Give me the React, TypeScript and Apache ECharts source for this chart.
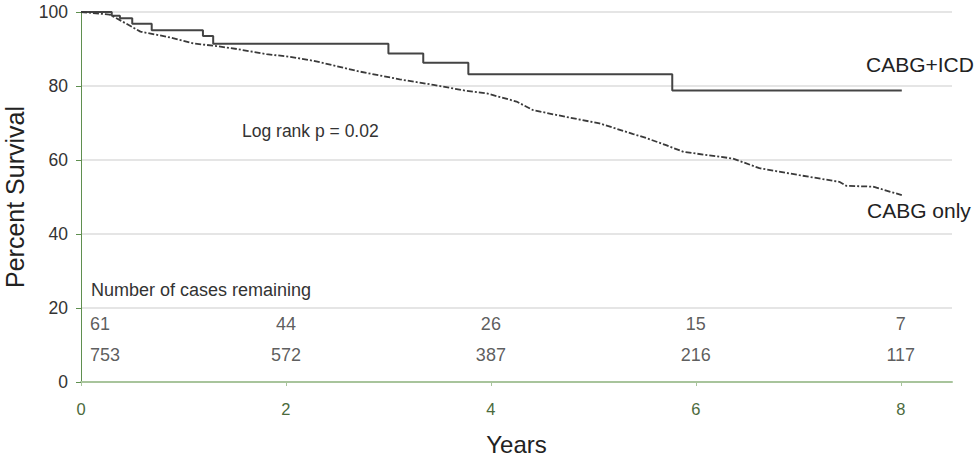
import React, { useEffect, useRef } from "react";
import * as echarts from "echarts";

const xTicks = [0, 2, 4, 6, 8];
const icdSurvival: [number, number][] = [
  [0, 100], [0.3, 99.0], [0.38, 98.3], [0.5, 96.8], [0.69, 95.1], [1.19, 93.5], [1.29, 91.4],
  [3.0, 88.8], [3.34, 86.3], [3.78, 83.2], [5.77, 78.8], [8.01, 78.7],
];
const cabgSurvival: [number, number][] = [
  [0, 100], [0.28, 99.3], [0.38, 97.8], [0.58, 94.7], [0.84, 93.3], [1.1, 91.5], [1.32, 90.8],
  [1.52, 90.0], [1.81, 88.6], [2.04, 87.9], [2.27, 86.8], [2.46, 85.6], [2.72, 83.9],
  [3.11, 81.8], [3.44, 80.3], [3.76, 78.7], [3.96, 78.0], [4.25, 75.8], [4.41, 73.5],
  [4.74, 71.6], [5.06, 69.9], [5.39, 67.0], [5.52, 65.9], [5.71, 64.0], [5.88, 62.2],
  [6.36, 60.4], [6.62, 57.8], [7.01, 55.9], [7.4, 54.1], [7.47, 53.0], [7.73, 52.8], [8.01, 50.5],
];
const atRiskYears = [0, 2, 4, 6, 8];
const atRiskICD = [61, 44, 26, 15, 7];
const atRiskCABG = [753, 572, 387, 216, 117];

export default function App() {
  const ref = useRef<HTMLDivElement>(null);
  useEffect(() => {
    if (!ref.current) return;
    const chart = echarts.init(ref.current, null, { renderer: "svg" });
    const font = "Liberation Sans, Arial, sans-serif";
    const riskData = (vals: number[], yv: number) =>
      vals.map((v, i) => ({
        value: [atRiskYears[i], yv, v],
        label: i === 0 ? { align: "left", offset: [9, 0] } : { align: "center" },
      }));
    const riskLabel = {
      show: true,
      formatter: (p: any) => String(p.value[2]),
      color: "#333",
      fontSize: 18,
      fontFamily: font,
      position: "inside",
    };
    chart.setOption({
      animation: false,
      textStyle: { fontFamily: font },
      grid: { left: 81, top: 12, right: 25, bottom: 75, containLabel: false, outerBoundsMode: "none" },
      xAxis: {
        type: "value",
        min: 0,
        max: 8.5,
        name: "Years",
        nameLocation: "middle",
        nameGap: 50,
        nameTextStyle: { fontSize: 24, color: "#222", fontFamily: font },
        axisLine: { show: true, lineStyle: { color: "#a8c49c", width: 2 } },
        axisTick: { show: true, length: 4, lineStyle: { color: "#a8c49c" }, customValues: xTicks },
        axisLabel: { color: "#4b6a3c", fontSize: 16.5, margin: 18, fontFamily: font, customValues: xTicks },
        splitLine: { show: false },
      },
      yAxis: {
        type: "value",
        min: 0,
        max: 100,
        interval: 20,
        name: "Percent Survival",
        nameLocation: "middle",
        nameGap: 46,
        nameTextStyle: { fontSize: 25, color: "#222", fontFamily: font },
        axisLine: { show: true, lineStyle: { color: "#5f8f4f", width: 1 } },
        axisTick: { show: true, length: 5, lineStyle: { color: "#5f8f4f" } },
        axisLabel: { color: "#333", fontSize: 17.5, margin: 13, fontFamily: font },
        splitLine: { show: true, lineStyle: { color: "#dcdcdc", width: 1.5 } },
      },
      series: [
        {
          type: "line",
          data: icdSurvival,
          step: "end",
          showSymbol: false,
          symbol: "none",
          lineStyle: { color: "#444", width: 2 },
        },
        {
          type: "line",
          data: cabgSurvival,
          showSymbol: false,
          symbol: "none",
          lineStyle: { color: "#3a3a3a", width: 1.8, type: [6, 2, 2, 2] },
        },
        { type: "scatter", symbolSize: 0, data: riskData(atRiskICD, 15.8), label: riskLabel },
        { type: "scatter", symbolSize: 0, data: riskData(atRiskCABG, 7.2), label: riskLabel },
      ],
      graphic: [
        { type: "text", x: 91, y: 290, style: { text: "Number of cases remaining", fontSize: 18, fill: "#333", fontFamily: font, verticalAlign: "middle" } },
        { type: "text", x: 242, y: 131, style: { text: "Log rank p = 0.02", fontSize: 17.5, fill: "#333", fontFamily: font, verticalAlign: "middle" } },
        { type: "text", x: 866, y: 64, style: { text: "CABG+ICD", fontSize: 21, fill: "#222", fontFamily: font, verticalAlign: "middle" } },
        { type: "text", x: 867, y: 210, style: { text: "CABG only", fontSize: 21, fill: "#222", fontFamily: font, verticalAlign: "middle" } },
      ],
    });
    return () => chart.dispose();
  }, []);
  return <div ref={ref} style={{ position: "fixed", left: 0, top: 0, width: 977, height: 457, background: "#fff" }} />;
}
